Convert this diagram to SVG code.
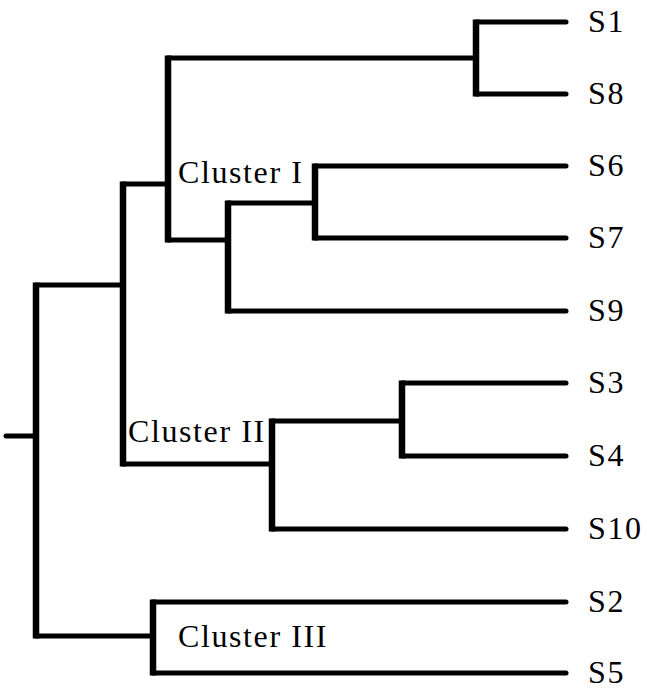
<svg xmlns="http://www.w3.org/2000/svg" width="647" height="695" viewBox="0 0 647 695">
<style>
.h{stroke:#000;stroke-width:5;stroke-linecap:round;fill:none}
.v{stroke:#000;stroke-width:6.5;stroke-linecap:butt;fill:none}
.lbl{font-family:"Liberation Serif","Times New Roman",serif;font-size:32px;letter-spacing:1.6px;fill:#000}
</style>
<rect width="647" height="695" fill="#fff"/>
<g id="connectors">
<line class="h" x1="6" y1="436" x2="36" y2="436"/>
<line class="h" x1="36" y1="285" x2="123" y2="285"/>
<line class="h" x1="36" y1="636" x2="153" y2="636"/>
<line class="h" x1="123" y1="184" x2="168" y2="184"/>
<line class="h" x1="123" y1="464" x2="272" y2="464"/>
<line class="h" x1="168" y1="58" x2="476" y2="58"/>
<line class="h" x1="168" y1="240" x2="228" y2="240"/>
<line class="h" x1="476" y1="22" x2="566" y2="22"/>
<line class="h" x1="476" y1="94" x2="566" y2="94"/>
<line class="h" x1="228" y1="203" x2="315" y2="203"/>
<line class="h" x1="228" y1="311" x2="566" y2="311"/>
<line class="h" x1="315" y1="166" x2="566" y2="166"/>
<line class="h" x1="315" y1="238" x2="566" y2="238"/>
<line class="h" x1="272" y1="421" x2="402" y2="421"/>
<line class="h" x1="272" y1="529" x2="566" y2="529"/>
<line class="h" x1="402" y1="383" x2="566" y2="383"/>
<line class="h" x1="402" y1="456" x2="566" y2="456"/>
<line class="h" x1="153" y1="602" x2="566" y2="602"/>
<line class="h" x1="153" y1="673" x2="566" y2="673"/>
<line class="v" x1="36" y1="282.5" x2="36" y2="638.5"/>
<line class="v" x1="123" y1="181.5" x2="123" y2="466.5"/>
<line class="v" x1="168" y1="55.5" x2="168" y2="242.5"/>
<line class="v" x1="476" y1="19.5" x2="476" y2="96.5"/>
<line class="v" x1="228" y1="200.5" x2="228" y2="313.5"/>
<line class="v" x1="315" y1="163.5" x2="315" y2="240.5"/>
<line class="v" x1="272" y1="418.5" x2="272" y2="531.5"/>
<line class="v" x1="402" y1="380.5" x2="402" y2="458.5"/>
<line class="v" x1="153" y1="599.5" x2="153" y2="675.5"/>
</g>
<g id="S1"><text class="lbl" x="588" y="32">S1</text></g>
<g id="S8"><text class="lbl" x="588" y="104">S8</text></g>
<g id="S6"><text class="lbl" x="588" y="176">S6</text></g>
<g id="S7"><text class="lbl" x="588" y="248">S7</text></g>
<g id="S9"><text class="lbl" x="588" y="321">S9</text></g>
<g id="S3"><text class="lbl" x="588" y="393">S3</text></g>
<g id="S4"><text class="lbl" x="588" y="466">S4</text></g>
<g id="S10"><text class="lbl" x="588" y="539">S10</text></g>
<g id="S2"><text class="lbl" x="588" y="612">S2</text></g>
<g id="S5"><text class="lbl" x="588" y="683">S5</text></g>
<g id="cluster-1"><text class="lbl" x="178" y="183">Cluster I</text></g>
<g id="cluster-2"><text class="lbl" x="128" y="442">Cluster II</text></g>
<g id="cluster-3"><text class="lbl" x="178" y="647">Cluster III</text></g>
</svg>
